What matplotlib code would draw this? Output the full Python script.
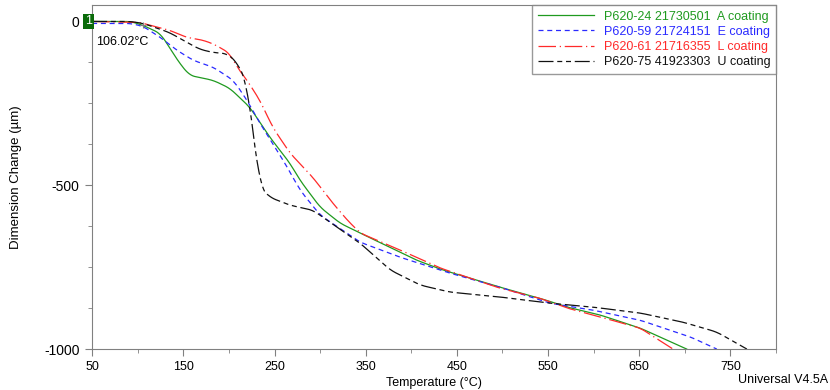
import matplotlib.pyplot as plt
import numpy as np
from matplotlib.ticker import MultipleLocator

plt.rcParams['font.family'] = ['Liberation Sans', 'DejaVu Sans']
plt.rcParams['axes.unicode_minus'] = False

a_temp = [50, 92, 106, 125, 146, 157, 168, 183, 201, 223, 245, 267, 278, 300, 322, 344,
          406, 435, 497, 541, 571, 607, 651, 702]
a_dim = [0, 0, -12, -37, -128, -165, -171, -180, -204, -262, -354, -433, -485, -567, -616, -646,
         -729, -759, -811, -845, -872, -896, -936, -1000]

e_temp = [50, 92, 106, 125, 143, 161, 183, 205, 220, 234, 248, 264, 278, 300, 344, 388,
          442, 497, 552, 599, 651, 706, 735]
e_dim = [-6, -6, -15, -49, -88, -119, -140, -180, -241, -311, -372, -445, -515, -591, -674, -720,
         -768, -811, -860, -881, -912, -963, -1000]

l_temp = [50, 103, 106, 135, 154, 168, 179, 190, 201, 209, 220, 234, 248, 267, 292, 314, 330,
          344, 388, 432, 497, 541, 571, 607, 651, 687]
l_dim = [0, -3, -6, -27, -49, -55, -64, -79, -98, -140, -180, -241, -323, -402, -476, -555, -607,
         -646, -698, -753, -814, -845, -875, -902, -936, -1000]

u_temp = [50, 92, 106, 135, 150, 168, 183, 198, 209, 220, 223, 229, 234, 245, 267, 292, 311,
          344, 377, 410, 442, 497, 552, 599, 651, 698, 735, 768]
u_dim = [0, 0, -6, -34, -58, -85, -95, -98, -125, -189, -262, -393, -506, -537, -561, -576, -613,
         -677, -759, -805, -826, -841, -860, -872, -890, -918, -948, -1000]

labels = ['P620-24 21730501  A coating', 'P620-59 21724151  E coating',
          'P620-61 21716355  L coating', 'P620-75 41923303  U coating']
colors = ['#1f9a1f', '#2a2aff', '#ff2a2a', '#111111']
styles = ['-', (0, (4, 3)), (0, (14, 3, 1, 3)), (0, (12, 3, 4, 3, 4, 3))]


def smooth(t, d, k=13):
    t = np.asarray(t, float)
    d = np.asarray(d, float)
    tt = np.linspace(t[0], t[-1], 700)
    dd = np.interp(tt, t, d)
    h = k // 2
    pad = np.concatenate([np.full(h, dd[0]), dd, 2 * dd[-1] - dd[-2:-h - 2:-1]])
    dd = np.convolve(pad, np.ones(k) / k, mode='valid')
    return tt, dd


fig = plt.figure(figsize=(8.3, 3.9), dpi=100)
ax = fig.add_axes([0.111, 0.105, 0.824, 0.882])

series = [(a_temp, a_dim), (e_temp, e_dim), (l_temp, l_dim), (u_temp, u_dim)]
for (t, d), lab, c, ls in zip(series, labels, colors, styles):
    tt, dd = smooth(t, d)
    ax.plot(tt, dd, color=c, ls=ls, lw=0.9, label=lab)

ax.set_xlim(50, 800)
ax.set_ylim(-1000, 50)
ax.set_xticks([50, 150, 250, 350, 450, 550, 650, 750])
ax.xaxis.set_minor_locator(MultipleLocator(50))
ax.set_yticks([0, -500, -1000])
ax.yaxis.set_minor_locator(MultipleLocator(125))
ax.tick_params(which='both', direction='out', color='#808080', labelsize=9)
ax.tick_params(axis='y', labelsize=10, pad=4)
ax.tick_params(which='major', length=5)
ax.tick_params(which='minor', length=3)
for s in ax.spines.values():
    s.set_color('#808080')

ax.set_xlabel('Temperature (°C)', fontsize=9, labelpad=3)
ax.set_ylabel('Dimension Change (µm)', fontsize=9.5, labelpad=16)

leg = ax.legend(loc='upper right', fontsize=9, frameon=True, fancybox=False,
                edgecolor='#808080', handlelength=4.5, borderaxespad=0,
                labelspacing=0.25, borderpad=0.45)
for txt, c in zip(leg.get_texts(), colors):
    txt.set_color(c)

# marker label
ax.text(-0.005, 0, '1', transform=ax.get_yaxis_transform(), color='white', fontsize=9,
        ha='center', va='center', bbox=dict(boxstyle='square,pad=0.15', fc='#0a6b0a', ec='none'))
ax.plot([106], [-12], marker='+', color='#808080', ms=5, mew=0.8)
ax.text(54, -64, '106.02°C', fontsize=9, va='center')

fig.text(0.998, 0.01, 'Universal V4.5A', fontsize=9, ha='right', va='bottom')

fig.savefig('out.png', dpi=100)
